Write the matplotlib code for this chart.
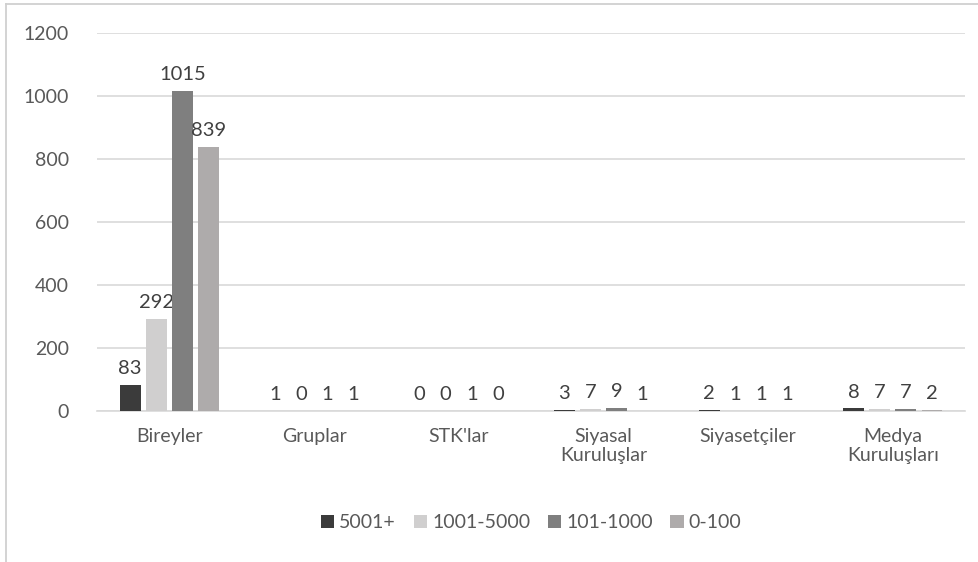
import numpy as np
import matplotlib.pyplot as plt
from matplotlib.lines import Line2D

plt.rcParams['font.family'] = ['Lato', 'DejaVu Sans']

categories = ['Bireyler', 'Gruplar', "STK'lar", 'Siyasal\nKuruluşlar', 'Siyasetçiler', 'Medya\nKuruluşları']
series_names = ['5001+', '1001-5000', '101-1000', '0-100']
v_5001 = [83, 1, 0, 3, 2, 8]
v_1001 = [292, 0, 0, 7, 1, 7]
v_101 = [1015, 1, 1, 9, 1, 7]
v_0 = [839, 1, 0, 1, 1, 2]
colors = ['#3b3b3b', '#d0cfcf', '#7f7f7f', '#aeabab']

text_col = '#595959'
fig = plt.figure(figsize=(9.79, 5.62), dpi=100)
ax = fig.add_axes([0.099, 0.2687, 0.887, 0.6726])

x = np.arange(len(categories))
width = 0.145
step = 0.18
for i, (vals, name) in enumerate(zip([v_5001, v_1001, v_101, v_0], series_names)):
    pos = x + (i - 1.5) * step
    ax.bar(pos, vals, width, color=colors[i], label=name, zorder=3)
    for p, v in zip(pos, vals):
        ax.text(p, v + 25, str(v), ha='center', va='bottom', fontsize=14.5, color='#404040')

ax.set_xlim(-0.5, len(categories) - 0.5)
ax.set_ylim(0, 1200)
ax.set_yticks(range(0, 1201, 200))
ax.yaxis.grid(True, color='#d9d9d9', linewidth=1.2, zorder=0)
for s in ['top', 'right', 'left']:
    ax.spines[s].set_visible(False)
ax.spines['bottom'].set_color('#d9d9d9')
ax.spines['bottom'].set_linewidth(1.2)
ax.tick_params(axis='both', length=0, labelsize=14, labelcolor=text_col)
ax.tick_params(axis='y', pad=20)
ax.set_xticks(x)
ax.set_xticklabels(categories, linespacing=1.2, va='top')
ax.tick_params(axis='x', pad=12)

ax.legend(loc='center', bbox_to_anchor=(0.5, -0.296), ncol=4, frameon=False,
          fontsize=14, labelcolor=text_col, handlelength=0.7, handleheight=0.7,
          handletextpad=0.25, columnspacing=0.9)

# outer chart frame (left and top edges visible)
fig.add_artist(Line2D([0.006, 0.006], [0.0, 0.993], transform=fig.transFigure,
                      color='#d0d0d0', linewidth=1.3))
fig.add_artist(Line2D([0.006, 1.0], [0.993, 0.993], transform=fig.transFigure,
                      color='#d0d0d0', linewidth=1.3))

fig.savefig('out.png', dpi=100)
